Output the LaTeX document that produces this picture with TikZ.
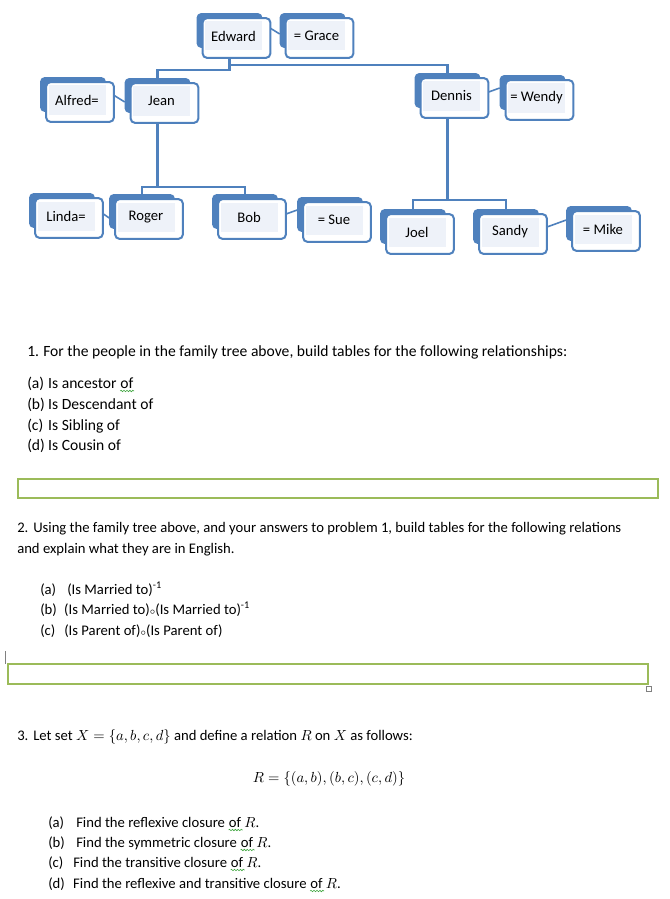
\documentclass[tikz,border=0pt]{standalone}
\usepackage{fontspec}
\setmainfont{Carlito}
\usetikzlibrary{calc,backgrounds,decorations.pathmorphing}
\definecolor{boxblue}{HTML}{4F81BD}
\definecolor{boxfill}{HTML}{EEF2F9}
\definecolor{answergreen}{HTML}{9BBB59}
\definecolor{wavegreen}{HTML}{3FA63F}
\definecolor{cursorgray}{HTML}{808080}
\newcommand\compose{{\scriptsize$\circ$}}
\tikzset{
  person/.style={rectangle, fill=boxfill, inner sep=0pt, minimum width=42.75pt, minimum height=21.75pt, font=\fontsize{11}{13}\selectfont},
  backcard/.style={fill=boxblue, rounded corners=3pt},
  frontcard/.style={draw=boxblue, fill=white, line width=1.5pt, rounded corners=3pt},
  tree/.style={draw=boxblue, line width=1.7pt},
  spouse/.style={draw=boxblue, line width=1.2pt},
  txt/.style={anchor=base west, inner sep=0pt, font=\fontsize{11}{13}\selectfont},
  txtbig/.style={txt, font=\fontsize{11.7}{14}\selectfont},
  answerbox/.style={draw=answergreen, line width=1.5pt},
  spellwave/.style={draw=wavegreen, line width=0.45pt, decorate, decoration={snake, amplitude=0.55pt, segment length=2.2pt}}
}

\begin{document}
\begin{tikzpicture}[x=0.75pt, y=-0.75pt]
\useasboundingbox (0,0) rectangle (670,899);

% family tree
\node[person] (edward) at (233.5,36) {Edward};
\node[person] (grace) at (316.5,36) {= Grace};
\node[person] (alfred) at (77,100) {Alfred=};
\node[person] (jean) at (161.5,101) {Jean};
\node[person] (dennis) at (451.5,96) {Dennis};
\node[person] (wendy) at (536.5,98) {= Wendy};
\node[person] (linda) at (66,216) {Linda=};
\node[person] (roger) at (146,217) {Roger};
\node[person] (bob) at (249,217) {Bob};
\node[person] (sue) at (334,220) {= Sue};
\node[person] (joel) at (417,232) {Joel};
\node[person] (sandy) at (510,232) {Sandy};
\node[person] (mike) at (603,229) {= Mike};

\begin{pgfonlayer}{background}
\draw[spouse] ($(edward.north east)+(0,2)$) -- ($(grace.west)+(-8,-2)$);
\draw[spouse] ($(alfred.north east)+(0,5)$) -- ($(jean.west)+(-8,1)$);
\draw[spouse] ($(dennis.east)+(0,-1)$) -- ($(wendy.west)+(-8,-10)$);
\draw[spouse] ($(linda.east)+(0,-8)$) -- ($(roger.west)+(-8,1)$);
\draw[spouse] ($(bob.east)+(0,0)$) -- ($(sue.west)+(-8,-10)$);
\draw[spouse] ($(sandy.east)+(0,-2)$) -- ($(mike.west)+(-8,-9)$);
\foreach \who in {edward,grace,alfred,jean,dennis,wendy,linda,roger,bob,sue,joel,sandy,mike} {
  \fill[backcard] ($(\who.north west)+(-8,-8)$) rectangle ($(\who.south east)+(0,-3)$);
  \draw[frontcard] ($(\who.north west)+(-2,-3)$) rectangle ($(\who.south east)+(8,7)$);
}
\end{pgfonlayer}

\draw[tree] ($(edward.south)+(-4,7)$) -- ++(0,12) -| ($(jean.north)+(-4,-8)$);
\draw[tree] ($(edward.south)+(-4,7)$) -- ++(0,7) -| ($(dennis.north)+(-4,-8)$);
\draw[tree] ($(jean.south)+(-4,7)$) -- ++(0,64.5) -| ($(roger.north)+(-4,-8)$);
\draw[tree] ($(jean.south)+(-4,7)$) -- ++(0,64.5) -| ($(bob.north)+(-4,-8)$);
\draw[tree] ($(dennis.south)+(-4,7)$) -- ++(0,82.5) -| ($(joel.north)+(-4,-8)$);
\draw[tree] ($(dennis.south)+(-4,7)$) -- ++(0,82.5) -| ($(sandy.north)+(-4,-8)$);

% question 1
\node[txtbig] (q1) at (27,356) {\makebox[12pt][l]{1.}For the people in the family tree above, build tables for the following relationships:};
\node[txtbig] (q1a) at (27,388) {\makebox[15.75pt][l]{(a)}Is ancestor};
\node[txtbig] (q1aof) at ($(q1a.base east)+(3.4,0)$) {of};
\node[txtbig] (q1b) at (27,409) {\makebox[15.75pt][l]{(b)}Is Descendant of};
\node[txtbig] (q1c) at (27,430) {\makebox[15.75pt][l]{(c)}Is Sibling of};
\node[txtbig] (q1d) at (27,450) {\makebox[15.75pt][l]{(d)}Is Cousin of};
\draw[answerbox] (18,479) rectangle (658,498);

% question 2
\node[txt] (q2) at (17,532) {\makebox[12pt][l]{2.}Using the family tree above, and your answers to problem 1, build tables for the following relations};
\node[txt] (q2l) at (17,553) {and explain what they are in English.};
\node[txt] (q2a) at (40,594) {\makebox[20.25pt][l]{(a)}(Is Married to)\textsuperscript{-1}};
\node[txt] (q2b) at (40,614) {\makebox[18pt][l]{(b)}(Is Married to)\compose(Is Married to)\textsuperscript{-1}};
\node[txt] (q2c) at (40,635) {\makebox[18pt][l]{(c)}(Is Parent of)\compose(Is Parent of)};
\draw[cursorgray, line width=0.5pt] (5,651) -- (5,664);
\draw[answerbox] (8,664) rectangle (648,684);
\draw[cursorgray, line width=0.5pt] (646,686) rectangle (651,691);

% question 3
\node[txt] (q3) at (17,740) {\makebox[12pt][l]{3.}Let set $X=\{a,b,c,d\}$ and define a relation $R$ on $X$ as follows:};
\node[txt, anchor=base] (rel) at (329,782) {$R=\{(a,b),(b,c),(c,d)\}$};
\node[txt] (q3a) at (48,827) {\makebox[21pt][l]{(a)}Find the reflexive closure};
\node[txt] (q3b) at (48,847) {\makebox[21pt][l]{(b)}Find the symmetric closure};
\node[txt] (q3c) at (48,867) {\makebox[18.75pt][l]{(c)}Find the transitive closure};
\node[txt] (q3d) at (48,888) {\makebox[18.75pt][l]{(d)}Find the reflexive and transitive closure};
\foreach \item in {q3a,q3b,q3c,q3d} {
  \node[txt] (\item of) at ($(\item.base east)+(3.3,0)$) {of $R$.};
}

% spelling marks
\foreach \word in {q1aof,q3aof,q3bof,q3cof,q3dof} {
  \draw[spellwave] ($(\word.base west)+(0,3)$) -- ($(\word.base west)+(14,3)$);
}
\end{tikzpicture}
\end{document}
